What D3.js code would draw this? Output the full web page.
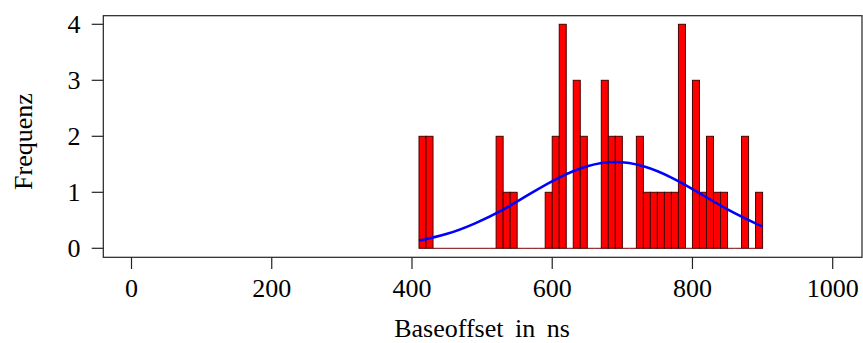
<!DOCTYPE html>
<html>
<head>
<meta charset="utf-8">
<script src="https://cdn.jsdelivr.net/npm/d3@7"></script>
<style>
  html, body { margin: 0; padding: 0; background: #fff; }
  svg { display: block; }
  text { font-family: "Liberation Serif", "DejaVu Serif", serif; fill: #000; }
</style>
</head>
<body>
<div id="chart"></div>
<script>
// histogram: bin starts (width 10 ns) and counts
const binStarts = [410, 420, 430, 440, 450, 460, 470, 480, 490, 500, 510, 520, 530, 540, 550, 560, 570, 580,
  590, 600, 610, 620, 630, 640, 650, 660, 670, 680, 690, 700, 710, 720, 730, 740, 750, 760, 770, 780, 790,
  800, 810, 820, 830, 840, 850, 860, 870, 880, 890];
const counts = [2, 2, 0, 0, 0, 0, 0, 0, 0, 0, 0, 2, 1, 1, 0, 0, 0, 0,
  1, 2, 4, 0, 3, 2, 0, 0, 3, 2, 2, 0, 0, 2, 1, 1, 1, 1, 1, 4, 0,
  3, 1, 2, 1, 1, 0, 0, 2, 0, 1];
const binWidth = 10;

// fitted curve
const curveX = [410, 450, 490, 530, 570, 610, 650, 690, 730, 770, 810, 850, 890, 900];
const curveY = [0.136, 0.258, 0.446, 0.69, 0.985, 1.263, 1.465, 1.54, 1.465, 1.263, 0.985, 0.696, 0.446, 0.392];

const xTicks = [0, 200, 400, 600, 800, 1000];
const yTicks = [0, 1, 2, 3, 4];

const width = 863, height = 343;
const box = { left: 103.3, right: 862, top: 15.7, bottom: 257.3 };

const x = d3.scaleLinear().domain([0, 1000]).range([131.5, 832.7]);
const y = d3.scaleLinear().domain([0, 4]).range([248.3, 24.3]);

const svg = d3.select('#chart').append('svg')
  .attr('width', width)
  .attr('height', height);

// empty bins still show their border as a flat line
svg.append('g')
  .selectAll('line')
  .data(binStarts.filter((d, i) => counts[i] === 0))
  .join('line')
  .attr('x1', d => x(d))
  .attr('x2', d => x(d + binWidth))
  .attr('y1', y(0))
  .attr('y2', y(0))
  .attr('stroke', '#7a0000')
  .attr('stroke-width', 1);

// bars
svg.append('g')
  .selectAll('rect')
  .data(binStarts.filter((d, i) => counts[i] > 0))
  .join('rect')
  .attr('x', d => x(d))
  .attr('width', d => x(d + binWidth) - x(d))
  .attr('y', d => y(counts[binStarts.indexOf(d)]))
  .attr('height', d => y(0) - y(counts[binStarts.indexOf(d)]))
  .attr('fill', '#ff0000')
  .attr('stroke', '#4a0000')
  .attr('stroke-width', 1);

// density curve
const line = d3.line()
  .x(d => x(d))
  .y((d, i) => y(curveY[i]))
  .curve(d3.curveNatural);

svg.append('path')
  .datum(curveX)
  .attr('d', line)
  .attr('fill', 'none')
  .attr('stroke', '#0000ff')
  .attr('stroke-width', 2.6);

// box
svg.append('rect')
  .attr('x', box.left)
  .attr('y', box.top)
  .attr('width', box.right - box.left)
  .attr('height', box.bottom - box.top)
  .attr('fill', 'none')
  .attr('stroke', '#222')
  .attr('stroke-width', 1.2);

// x axis
const xa = svg.append('g');
xa.selectAll('line')
  .data(xTicks)
  .join('line')
  .attr('x1', d => x(d)).attr('x2', d => x(d))
  .attr('y1', box.bottom).attr('y2', 269)
  .attr('stroke', '#222')
  .attr('stroke-width', 1.2);
xa.selectAll('text')
  .data(xTicks)
  .join('text')
  .attr('x', d => x(d))
  .attr('y', 297)
  .attr('text-anchor', 'middle')
  .style('font-size', '26px')
  .text(d => d);

// y axis
const ya = svg.append('g');
ya.selectAll('line')
  .data(yTicks)
  .join('line')
  .attr('x1', 91.7).attr('x2', box.left)
  .attr('y1', d => y(d)).attr('y2', d => y(d))
  .attr('stroke', '#222')
  .attr('stroke-width', 1.2);
ya.selectAll('text')
  .data(yTicks)
  .join('text')
  .attr('x', 80.5)
  .attr('y', d => y(d) + 9)
  .attr('text-anchor', 'end')
  .style('font-size', '26px')
  .text(d => d);

// titles
svg.append('text')
  .attr('x', 482)
  .attr('y', 337)
  .attr('text-anchor', 'middle')
  .style('font-size', '26px')
  .style('word-spacing', '5px')
  .text('Baseoffset in ns');

svg.append('text')
  .attr('transform', 'translate(31.5, 141.5) rotate(-90)')
  .attr('text-anchor', 'middle')
  .style('font-size', '26px')
  .text('Frequenz');
</script>
</body>
</html>
